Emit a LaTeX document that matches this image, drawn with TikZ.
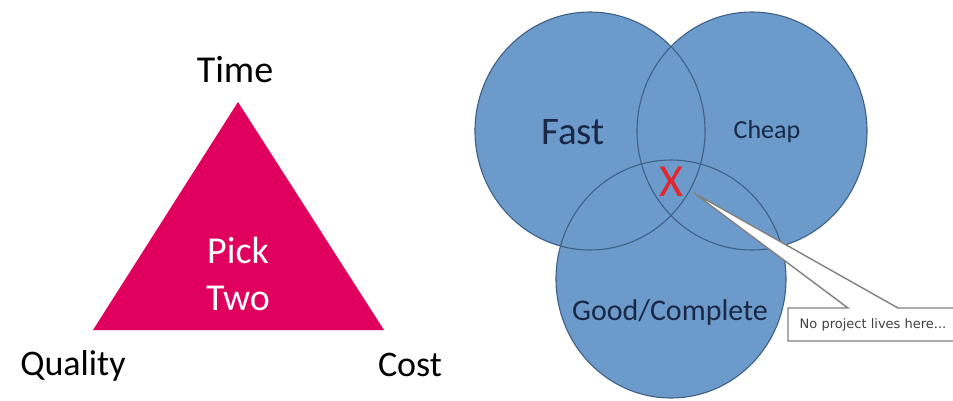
\documentclass[tikz,border=0pt]{standalone}
\usepackage{fontspec}
\setmainfont{Carlito}
\newfontfamily\notefont{DejaVu Sans}
\usetikzlibrary{shapes.geometric}
\definecolor{tripink}{HTML}{E0005E}
\definecolor{vblue}{HTML}{6C9BCB}
\definecolor{vline}{HTML}{3F5F86}
\definecolor{vtext}{HTML}{182846}
\definecolor{xred}{HTML}{E4262C}
\definecolor{callgray}{HTML}{808080}
\tikzset{
  fs/.style={font=\fontsize{#1}{#1}\selectfont},
  lbl/.style={text=black, inner sep=0pt},
  vset/.style={ellipse, fill=vblue, minimum width=230pt, minimum height=238pt, inner sep=0pt},
  vedge/.style={draw=vline, line width=1.1pt},
  vlbl/.style={text=vtext, inner sep=0pt},
}
\begin{document}
\begin{tikzpicture}[x=1pt,y=-1pt]
\useasboundingbox (0,0) rectangle (953,400);
\clip (0,0) rectangle (953,400);
% triangle
\coordinate (apex) at (238,102);
\coordinate (bl) at (93,330);
\coordinate (br) at (384,330);
\fill[tripink] (apex) -- (bl) -- (br) -- cycle;
\node[lbl, fs=38] (time) at (235,70) {Time};
\node[lbl, fs=36] (quality) at (73,366) {Quality};
\node[lbl, fs=36] (cost) at (410,365) {Cost};
\node[lbl, fs=38, text=white] (pick) at (238,250) {Pick};
\node[lbl, fs=38, text=white] (two) at (238,298) {Two};
% venn
\node[vset] (fast) at (590,131) {};
\node[vset] (cheap) at (752,131) {};
\node[vset] (good) at (671,279) {};
\foreach \n in {fast,cheap,good}
  \draw[vedge] (\n.center) ellipse [x radius=115pt, y radius=119pt];
\node[vlbl, fs=39] (fastl) at (573,132) {Fast};
\node[vlbl, fs=26] (cheapl) at (767,132) {Cheap};
\node[vlbl, fs=30] (goodl) at (670,312) {Good/Complete};
\node[inner sep=0pt, text=xred, fs=46] (x) at (671,182) {X};
% callout
\coordinate (tip) at (694,193);
\draw[callgray, line width=1.4pt, fill=white]
  (788,308) -- (848,308) -- (tip) -- (898,308) -- (956,308) -- (956,341) -- (788,341) -- cycle;
\node[inner sep=0pt, text=black!75, font=\notefont\fontsize{13}{14}\selectfont] (note) at (873,325) {No project lives here...};
\end{tikzpicture}
\end{document}
